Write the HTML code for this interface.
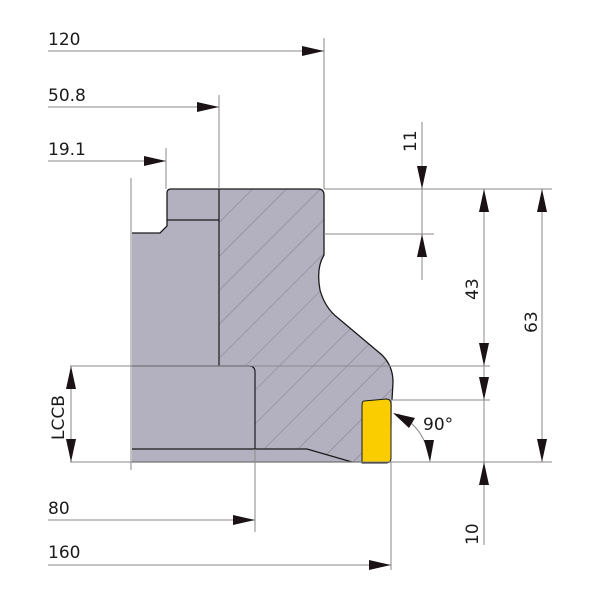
<!DOCTYPE html>
<html><head><meta charset="utf-8"><style>html,body{margin:0;padding:0;background:#fff}svg{display:block}</style></head>
<body>
<svg width="600" height="600" viewBox="0 0 600 600" xmlns="http://www.w3.org/2000/svg" font-family="DejaVu Sans, Liberation Sans, sans-serif">
<defs>
<pattern id="h" patternUnits="userSpaceOnUse" width="24" height="24" patternTransform="rotate(45)">
<rect width="24" height="24" fill="#b3b1c0"/>
<line x1="0" y1="0" x2="0" y2="24" stroke="#4a4a55" stroke-width="0.5"/>
</pattern>
<clipPath id="body"><path d="M132,233 L160,233 L167,226 L167,193 Q167,189 171,189 L318,189 Q324,189 324,195 L324,255 Q316,268 320,290 Q325,308 338,318 L382,355 Q393,366 393,382 L392,400 L391,462 L132,462 Z"/></clipPath>
</defs>
<path d="M132,233 L160,233 L167,226 L167,193 Q167,189 171,189 L318,189 Q324,189 324,195 L324,255 Q316,268 320,290 Q325,308 338,318 L382,355 Q393,366 393,382 L392,400 L391,462 L132,462 Z" fill="#b3b1c0"/>
<g clip-path="url(#body)">
<path d="M219,189 L400,189 L400,470 L352,462 L307,449 L255,449 L255,366 L219,366 Z" fill="url(#h)"/>
</g>
<path d="M132,233 L160,233 L167,226 L167,193 Q167,189 171,189 L318,189 Q324,189 324,195 L324,255 Q316,268 320,290 Q325,308 338,318 L382,355 Q393,366 393,382 L392,400" fill="none" stroke="#1a1a1a" stroke-width="1.3"/>
<line x1="132" y1="462" x2="362" y2="462" stroke="#1a1a1a" stroke-width="1.3"/>
<g fill="none" stroke="#1a1a1a" stroke-width="1.2">
<line x1="219" y1="189" x2="219" y2="366"/>
<line x1="167" y1="220" x2="219" y2="220"/>
<path d="M132,366 L249,366 Q255,366 255,372 L255,449"/>
<path d="M132,449 L307,449 L352,462"/>
</g>
<path d="M364,401 L386,399 Q391,399 391,404 L391,458 Q391,463 386,463 L362,463 L362,406 Q362,401 364,401 Z" fill="#f9cd00" stroke="#1a1a1a" stroke-width="1"/>
<g stroke="#8a8a8a" stroke-width="1" fill="none">
<line x1="48" y1="51" x2="324" y2="51"/>
<line x1="324" y1="38" x2="324" y2="189"/>
<line x1="48" y1="107" x2="219" y2="107"/>
<line x1="219" y1="95" x2="219" y2="189"/>
<line x1="48" y1="161" x2="166" y2="161"/>
<line x1="166" y1="148" x2="166" y2="189"/>
<line x1="131" y1="178" x2="131" y2="470"/>
<line x1="324" y1="189" x2="552" y2="189"/>
<line x1="324" y1="234" x2="434" y2="234"/>
<line x1="422" y1="122" x2="422" y2="280"/>
<line x1="484" y1="189" x2="484" y2="545"/>
<line x1="542" y1="189" x2="542" y2="462"/>
<line x1="70" y1="366" x2="490" y2="366"/>
<line x1="391" y1="400" x2="490" y2="400"/>
<line x1="70" y1="462" x2="552" y2="462"/>
<line x1="71" y1="366" x2="71" y2="462"/>
<line x1="48" y1="520" x2="255" y2="520"/>
<line x1="255" y1="449" x2="255" y2="532"/>
<line x1="48" y1="565" x2="391" y2="565"/>
<line x1="391" y1="462" x2="391" y2="570"/>
<path d="M398,414 Q425,428 430,460"/>
</g>
<g fill="#1a1214">
<polygon points="324,51 302,46 302,56"/>
<polygon points="219,107 197,102 197,112"/>
<polygon points="166,161 144,156 144,166"/>
<polygon points="255,520 233,515 233,525"/>
<polygon points="391,565 369,560 369,570"/>
<polygon points="422,189 417,166 427,166"/>
<polygon points="422,234 417,257 427,257"/>
<polygon points="484,189 479,212 489,212"/>
<polygon points="484,366 479,343 489,343"/>
<polygon points="484,400 479,377 489,377"/>
<polygon points="484,462 479,485 489,485"/>
<polygon points="542,189 537,212 547,212"/>
<polygon points="542,462 537,439 547,439"/>
<polygon points="71,366 66,389 76,389"/>
<polygon points="71,462 66,439 76,439"/>
<polygon points="393,413 415,418 409,428"/>
<polygon points="430,462 424,440 434,440"/>
</g>
<g font-size="17" fill="#1a1a1a">
<text x="48" y="45">120</text>
<text x="48" y="101">50.8</text>
<text x="48" y="155">19.1</text>
<text x="48" y="514">80</text>
<text x="48" y="558">160</text>
<text x="423" y="430">90°</text>
<text transform="translate(416,152) rotate(-90)">11</text>
<text transform="translate(478,300) rotate(-90)">43</text>
<text transform="translate(537,333) rotate(-90)">63</text>
<text transform="translate(478,545) rotate(-90)">10</text>
<text transform="translate(64,440) rotate(-90)">LCCB</text>
</g>
</svg>
</body></html>
